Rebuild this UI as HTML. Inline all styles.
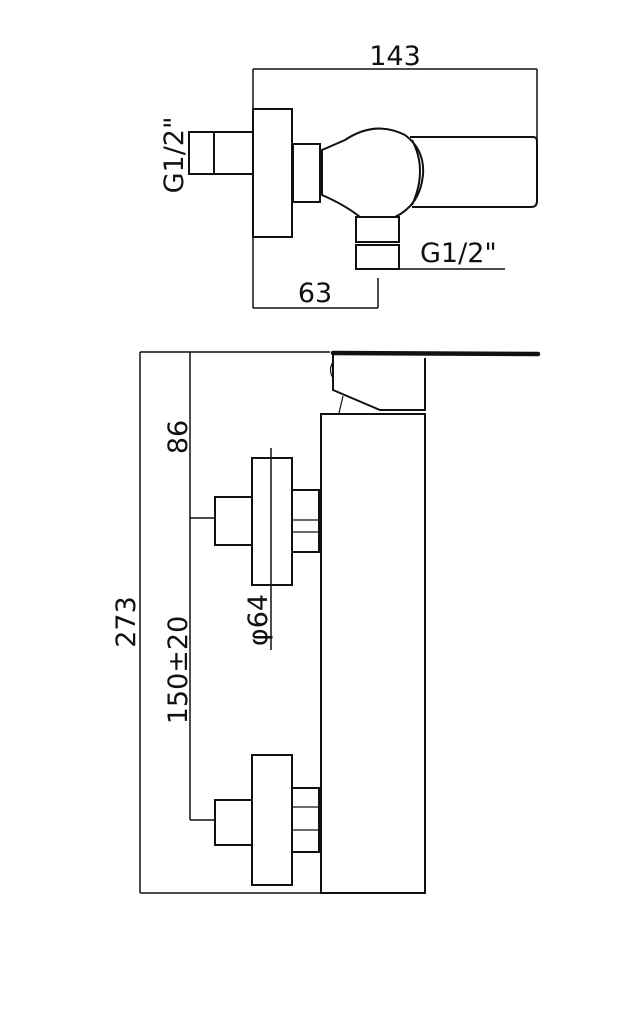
<!DOCTYPE html>
<html><head><style>body{margin:0;background:#fff}svg{display:block}text{font-family:"DejaVu Sans","Liberation Sans",sans-serif;font-size:27px;fill:#111}</style></head>
<body>
<svg width="640" height="1024" viewBox="0 0 640 1024" xmlns="http://www.w3.org/2000/svg">
<g fill="none" stroke="#111" stroke-width="2">
<!-- top view dims -->
<line x1="253" y1="69" x2="537" y2="69" stroke-width="1.5"/>
<line x1="253" y1="69" x2="253" y2="308" stroke-width="1.5"/>
<line x1="537" y1="69" x2="537" y2="140" stroke-width="1.5"/>
<line x1="253" y1="308" x2="378" y2="308" stroke-width="1.5"/>
<line x1="378" y1="278" x2="378" y2="308" stroke-width="1.5"/>
<line x1="356" y1="269" x2="505" y2="269" stroke-width="1.5"/>
<!-- top view body -->
<rect x="189" y="132" width="64" height="42"/>
<line x1="214" y1="132" x2="214" y2="174"/>
<rect x="253" y="109" width="39" height="128" fill="#fff"/>
<rect x="293" y="144" width="27" height="58"/>
<path d="M322 150 L345 140 Q375 120 405 135 Q425 150 423 175 Q420 205 395 217 L360 217 Q345 205 322 195 Z"/>
<path d="M410 137 L533 137 Q537 137 537 141 L537 201 Q537 207 531 207 L412 207"/>
<path d="M412 140 Q428 170 412 205"/>
<rect x="356" y="217" width="43" height="25"/>
<rect x="356" y="245" width="43" height="24"/>
<!-- bottom view dims -->
<line x1="140" y1="352" x2="330" y2="352" stroke-width="1.5"/>
<line x1="140" y1="352" x2="140" y2="893" stroke-width="1.5"/>
<line x1="140" y1="893" x2="425" y2="893" stroke-width="1.5"/>
<line x1="190" y1="352" x2="190" y2="820" stroke-width="1.5"/>
<line x1="190" y1="518" x2="215" y2="518" stroke-width="1.5"/>
<line x1="190" y1="820" x2="215" y2="820" stroke-width="1.5"/>
<!-- cap -->
<path d="M333 353 L333 390 L380 410 L425 410 L425 358"/>
<line x1="343" y1="396" x2="339" y2="413" stroke-width="1.2"/>
<path d="M333 362 Q328 370 333 378" stroke-width="1.2"/>
<line x1="333" y1="353" x2="538" y2="354" stroke-width="4.5" stroke-linecap="round"/>
<!-- body -->
<rect x="321" y="414" width="104" height="479"/>
<!-- upper fitting -->
<rect x="215" y="497" width="37" height="48"/>
<rect x="252" y="458" width="40" height="127"/>
<rect x="292" y="490" width="27" height="62"/>
<line x1="292" y1="520" x2="319" y2="520" stroke-width="1.2"/>
<line x1="292" y1="532" x2="319" y2="532" stroke-width="1.2"/>
<line x1="320" y1="490" x2="320" y2="552" stroke-width="3"/>
<line x1="271" y1="448" x2="271" y2="650" stroke-width="1.5"/>
<!-- lower fitting -->
<rect x="215" y="800" width="37" height="45"/>
<rect x="252" y="755" width="40" height="130"/>
<rect x="292" y="788" width="27" height="64"/>
<line x1="292" y1="807" x2="319" y2="807" stroke-width="1.2"/>
<line x1="292" y1="830" x2="319" y2="830" stroke-width="1.2"/>
<line x1="320" y1="788" x2="320" y2="852" stroke-width="3"/>
</g>
<text x="395" y="65" text-anchor="middle">143</text>
<text x="315" y="302" text-anchor="middle">63</text>
<text x="420" y="262">G1/2"</text>
<text transform="translate(183,155) rotate(-90)" text-anchor="middle">G1/2"</text>
<text transform="translate(187,437) rotate(-90)" text-anchor="middle">86</text>
<text transform="translate(187,670) rotate(-90)" text-anchor="middle">150±20</text>
<text transform="translate(135,622) rotate(-90)" text-anchor="middle">273</text>
<text transform="translate(267,620) rotate(-90)" text-anchor="middle">φ64</text>
</svg>
</body></html>
